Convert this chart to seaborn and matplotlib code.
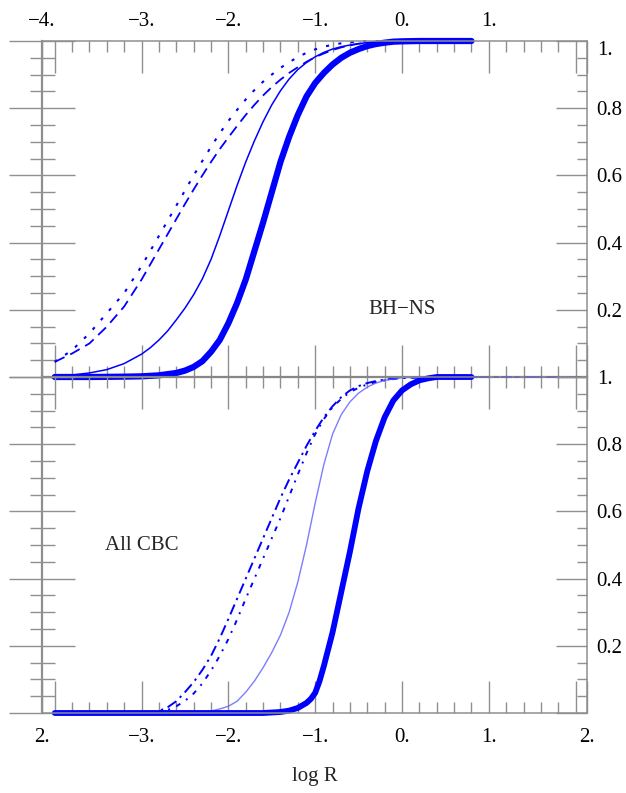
import numpy as np
import matplotlib
matplotlib.use("Agg")
import matplotlib.pyplot as plt
import seaborn as sns
from matplotlib.ticker import FixedLocator, FixedFormatter

# ---------------- data ----------------
# Top panel: BH-NS
bhns_x = [-4.0, -3.8, -3.6, -3.4, -3.2, -3.0, -2.9, -2.8, -2.7, -2.6, -2.5, -2.4,
          -2.3, -2.2, -2.1, -2.0, -1.9, -1.8, -1.7, -1.6, -1.5, -1.4, -1.3, -1.2,
          -1.1, -1.0, -0.9, -0.8, -0.7, -0.6, -0.5, -0.4, -0.2, 0.0, 0.4, 0.8]
bhns_dotted = [0.045, 0.08, 0.13, 0.19, 0.25, 0.33, 0.375, 0.42, 0.465, 0.51, 0.555, 0.60,
               0.643, 0.685, 0.725, 0.762, 0.795, 0.826, 0.854, 0.879, 0.90, 0.92, 0.937, 0.952,
               0.965, 0.975, 0.983, 0.989, 0.993, 0.996, 0.998, 0.999, 1.0, 1.0, 1.0, 1.0]
bhns_dashed = [0.045, 0.07, 0.10, 0.15, 0.21, 0.29, 0.335, 0.38, 0.425, 0.47, 0.515, 0.558,
               0.60, 0.64, 0.678, 0.713, 0.747, 0.78, 0.81, 0.838, 0.863, 0.885, 0.905, 0.922,
               0.938, 0.952, 0.963, 0.973, 0.981, 0.987, 0.992, 0.995, 0.999, 1.0, 1.0, 1.0]
bhns_thin = [0.003, 0.006, 0.012, 0.022, 0.04, 0.068, 0.087, 0.11, 0.137, 0.17, 0.205, 0.245,
             0.292, 0.35, 0.42, 0.495, 0.57, 0.64, 0.703, 0.76, 0.81, 0.852, 0.887, 0.915,
             0.936, 0.953, 0.966, 0.976, 0.983, 0.988, 0.992, 0.995, 0.999, 1.0, 1.0, 1.0]
bhns_thick_x = [-4.0, -3.6, -3.2, -3.0, -2.8, -2.6, -2.5, -2.4, -2.3, -2.2, -2.1, -2.0,
                -1.9, -1.8, -1.7, -1.6, -1.5, -1.4, -1.3, -1.2, -1.1, -1.0, -0.9, -0.8,
                -0.7, -0.6, -0.5, -0.4, -0.3, -0.2, -0.1, 0.0, 0.2, 0.8]
bhns_thick = [0.0, 0.0, 0.001, 0.002, 0.005, 0.012, 0.019, 0.03, 0.047, 0.075, 0.11, 0.16,
              0.22, 0.29, 0.375, 0.46, 0.55, 0.64, 0.715, 0.78, 0.835, 0.875, 0.905, 0.93,
              0.95, 0.965, 0.976, 0.985, 0.991, 0.995, 0.998, 0.999, 1.0, 1.0]

# Bottom panel: All CBC
cbc_x = [-4.0, -3.4, -3.0, -2.9, -2.8, -2.7, -2.6, -2.5, -2.4, -2.3, -2.2, -2.1,
         -2.0, -1.9, -1.8, -1.7, -1.6, -1.5, -1.4, -1.3, -1.2, -1.1, -1.0, -0.9,
         -0.8, -0.7, -0.6, -0.5, -0.4, -0.3, -0.2, -0.1, 0.0, 0.2, 0.4, 0.8, 1.2, 1.6, 2.1]
cbc_dashdot = [0.0, 0.0, 0.0, 0.001, 0.006, 0.017, 0.035, 0.062, 0.092, 0.128, 0.17, 0.222,
               0.28, 0.34, 0.40, 0.46, 0.52, 0.58, 0.64, 0.695, 0.745, 0.795, 0.84, 0.88,
               0.913, 0.94, 0.96, 0.973, 0.982, 0.988, 0.992, 0.995, 0.997, 0.999, 1.0, 1.0,
               1.0, 1.0, 1.0]
cbc_dotted = [0.0, 0.0, 0.0, 0.0, 0.003, 0.009, 0.02, 0.036, 0.058, 0.088, 0.126, 0.17,
              0.22, 0.278, 0.34, 0.40, 0.46, 0.52, 0.58, 0.645, 0.71, 0.773, 0.83, 0.875,
              0.91, 0.935, 0.955, 0.968, 0.978, 0.985, 0.99, 0.994, 0.997, 0.999, 1.0, 1.0,
              1.0, 1.0, 1.0]
cbc_thin_x = [-4.0, -2.6, -2.4, -2.3, -2.2, -2.1, -2.0, -1.9, -1.8, -1.7, -1.6, -1.5,
              -1.4, -1.3, -1.2, -1.1, -1.0, -0.9, -0.8, -0.7, -0.6, -0.5, -0.4, -0.3,
              -0.2, 0.0, 0.2, 0.8]
cbc_thin = [0.0, 0.0, 0.001, 0.003, 0.006, 0.012, 0.02, 0.035, 0.062, 0.095, 0.135, 0.18,
            0.232, 0.30, 0.39, 0.50, 0.625, 0.74, 0.83, 0.888, 0.926, 0.952, 0.97, 0.982,
            0.99, 0.998, 1.0, 1.0]
cbc_thick_x = [-4.0, -2.0, -1.6, -1.4, -1.3, -1.2, -1.1, -1.05, -1.0, -0.95, -0.9, -0.85,
               -0.8, -0.7, -0.6, -0.5, -0.4, -0.3, -0.2, -0.1, 0.0, 0.1, 0.2, 0.3, 0.4, 0.8]
cbc_thick = [0.0, 0.0, 0.0, 0.003, 0.007, 0.015, 0.03, 0.042, 0.06, 0.095, 0.14, 0.19,
             0.24, 0.36, 0.48, 0.61, 0.72, 0.81, 0.88, 0.93, 0.96, 0.978, 0.99, 0.996,
             1.0, 1.0]

# tick labels
x_major = [-4, -3, -2, -1, 0, 1, 2]
top_xlabels = ["\u22124.", "", "\u22123.", "\u22122.", "\u22121.", "0.", "1.", "", ""]
bottom_xlabels = ["2.", "", "\u22123.", "\u22122.", "\u22121.", "0.", "1.", "", "2."]
y_major = [0.0, 0.2, 0.4, 0.6, 0.8, 1.0]
y_labels = ["", "0.2", "0.4", "0.6", "0.8", "1."]

# ---------------- style ----------------
sns.set_theme(style="white")
plt.rcParams['font.family'] = ['Liberation Serif', 'DejaVu Serif']
plt.rcParams['axes.unicode_minus'] = True

BLUE = "#0000ff"
GRAY = "#8f8f8f"
FS = 15
XL, XR = -4.147, 2.131

fig = plt.figure(figsize=(6.26, 7.93), dpi=100)
L, W = 42 / 626, 545 / 626
ax1 = fig.add_axes([L, 416 / 793, W, 336 / 793])
ax2 = fig.add_axes([L, 80 / 793, W, 336 / 793])


def draw(ax, xs, ys, lw, dashes=None, color=BLUE, alpha=1.0):
    sns.lineplot(x=xs, y=ys, ax=ax, color=color, linewidth=lw, alpha=alpha,
                 estimator=None, sort=False, legend=False)
    line = ax.lines[-1]
    line.set_clip_on(False)
    line.set_solid_joinstyle('round')
    if dashes is not None:
        line.set_dashes(dashes)
    return line


# top panel curves
draw(ax1, bhns_x, bhns_dotted, 1.5, dashes=(1.5, 4.5))
draw(ax1, bhns_x, bhns_dashed, 1.3, dashes=(6, 3.5))
draw(ax1, bhns_x, bhns_thin, 1.1)
draw(ax1, bhns_thick_x, bhns_thick, 4.5)

# bottom panel curves
draw(ax2, cbc_x, cbc_dashdot, 1.4, dashes=(5.5, 2.5, 1.2, 2.5))
draw(ax2, cbc_x, cbc_dotted, 1.4, dashes=(2.5, 3.5, 1, 3.5))
draw(ax2, cbc_thin_x, cbc_thin, 1.0, color="#5c5cff", alpha=0.8)
draw(ax2, cbc_thick_x, cbc_thick, 4.2)

x_minor = [round(-4 + 0.2 * i, 2) for i in range(31)]
y_minor = [round(0.05 * i, 2) for i in range(21)]

for ax, labels, top in ((ax1, top_xlabels, True), (ax2, bottom_xlabels, False)):
    axr = ax.twinx()
    ax.set_xlim(XL, XR)
    ax.set_ylim(0, 1)
    axr.set_ylim(0, 1)
    ax.set_xlabel("")
    ax.set_ylabel("")
    ax.patch.set_alpha(0)
    for s in ax.spines.values():
        s.set_color(GRAY)
        s.set_linewidth(1.1)
        s.set_visible(True)
    for s in axr.spines.values():
        s.set_visible(False)

    ax.xaxis.set_major_locator(FixedLocator([XL] + x_major + [XR]))
    ax.xaxis.set_major_formatter(FixedFormatter(labels))
    ax.xaxis.set_minor_locator(FixedLocator(x_minor))
    ax.tick_params(axis='x', which='major', direction='in', length=23, width=1.0,
                   color=GRAY, top=True, bottom=True, labeltop=top, labelbottom=not top,
                   labelsize=FS, labelcolor='black', pad=7 if top else 11)
    ax.tick_params(axis='x', which='minor', direction='in', length=8, width=1.0,
                   color=GRAY, top=True, bottom=True)

    ax.yaxis.set_major_locator(FixedLocator(y_major))
    ax.yaxis.set_minor_locator(FixedLocator(y_minor))
    ax.tick_params(axis='y', which='major', direction='inout', length=48, width=1.0,
                   color=GRAY, left=True, right=False, labelleft=False, labelright=False)
    ax.tick_params(axis='y', which='minor', direction='inout', length=18, width=1.0,
                   color=GRAY, left=True, right=False)

    axr.yaxis.set_major_locator(FixedLocator(y_major))
    axr.yaxis.set_major_formatter(FixedFormatter(y_labels))
    axr.yaxis.set_minor_locator(FixedLocator(y_minor))
    axr.tick_params(axis='y', which='major', direction='in', length=22, width=1.0,
                    color=GRAY, right=True, left=False, labelright=True, labelleft=False,
                    labelsize=FS, labelcolor='black', pad=7)
    axr.tick_params(axis='y', which='minor', direction='in', length=7, width=1.0,
                    color=GRAY, right=True, left=False)
    if top:
        fig.canvas.draw()
        axr.get_yticklabels()[-1].set_va('top')

ax1.spines['bottom'].set_color('#6e6e6e')
ax1.spines['bottom'].set_linewidth(1.6)
ax1.spines['left'].set_linewidth(1.6)
ax2.spines['left'].set_linewidth(1.6)

ax1.text(0.0, 0.2, "BH\u2212NS", ha='center', va='center', fontsize=FS)
ax2.text(-3.0, 0.5, "All CBC", ha='center', va='center', fontsize=FS)
ax2.set_xlabel("log R", fontsize=FS, labelpad=14)

fig.savefig("out.png", dpi=100)
